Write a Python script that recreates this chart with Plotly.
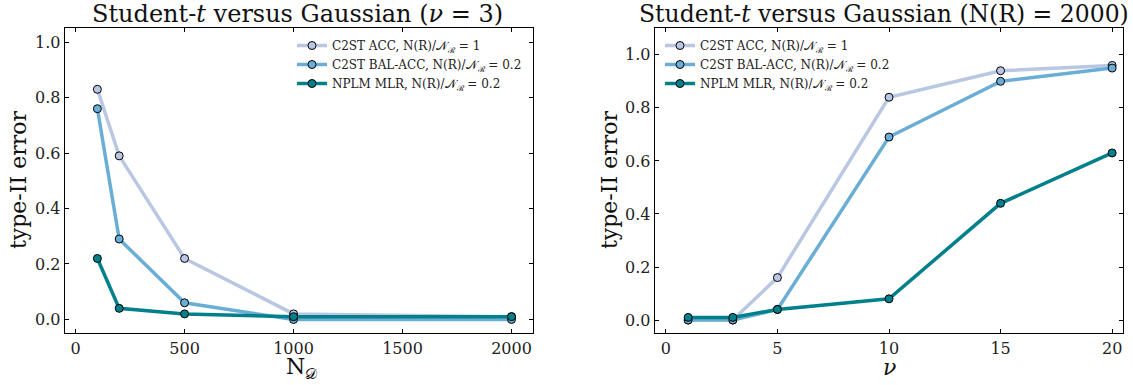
import plotly.graph_objects as go

# ---- data ----
n_data = [100, 200, 500, 1000, 2000]
acc_left = [0.83, 0.59, 0.22, 0.02, 0.01]
balacc_left = [0.76, 0.29, 0.06, 0.00, 0.00]
nplm_left = [0.22, 0.04, 0.02, 0.01, 0.01]

nu_vals = [1, 3, 5, 10, 15, 20]
acc_right = [0.00, 0.00, 0.16, 0.84, 0.94, 0.96]
balacc_right = [0.00, 0.00, 0.04, 0.69, 0.90, 0.95]
nplm_right = [0.01, 0.01, 0.04, 0.08, 0.44, 0.63]

names = ["C2ST ACC, N(R)/𝒩<sub>ℛ</sub> = 1",
         "C2ST BAL-ACC, N(R)/𝒩<sub>ℛ</sub> = 0.2",
         "NPLM MLR, N(R)/𝒩<sub>ℛ</sub> = 0.2"]
colors = ["#b9c7e2", "#6aaed6", "#00808a"]

W, H = 1133, 385
FONT = "DejaVu Serif"

fig = go.Figure()

def add_series(xs, ys, name, color, xa, ya, legend):
    fig.add_trace(go.Scatter(
        x=xs, y=ys, name=name, mode="lines+markers",
        line=dict(color=color, width=3.5),
        marker=dict(size=8, color=color, line=dict(color="black", width=1)),
        xaxis=xa, yaxis=ya, legend=legend, showlegend=True))

for ys, nm, c in zip([acc_left, balacc_left, nplm_left], names, colors):
    add_series(n_data, ys, nm, c, "x", "y", "legend")
for ys, nm, c in zip([acc_right, balacc_right, nplm_right], names, colors):
    add_series(nu_vals, ys, nm, c, "x2", "y2", "legend2")

ydom = [1 - 333.3 / H, 1 - 28.3 / H]
axis_common = dict(
    showline=True, linecolor="black", linewidth=1, mirror="allticks",
    ticks="inside", ticklen=4, tickwidth=1, tickcolor="black",
    showgrid=False, zeroline=False,
    tickfont=dict(family=FONT, size=16, color="#222"),
)

fig.update_layout(
    width=W, height=H,
    margin=dict(l=0, r=0, t=0, b=0),
    paper_bgcolor="white", plot_bgcolor="white",
    font=dict(family=FONT, color="#222"),
    xaxis=dict(domain=[64.7 / W, 533.3 / W], range=[-50, 2100],
               tickvals=[0, 500, 1000, 1500, 2000], anchor="y", **axis_common),
    yaxis=dict(domain=ydom, range=[-0.05, 1.05],
               tickvals=[0, 0.2, 0.4, 0.6, 0.8, 1.0], tickformat=".1f",
               anchor="x", **axis_common),
    xaxis2=dict(domain=[654.7 / W, 1123.3 / W], range=[-0.5, 20.5],
                tickvals=[0, 5, 10, 15, 20], anchor="y2", **axis_common),
    yaxis2=dict(domain=ydom, range=[-0.05, 1.1],
                tickvals=[0, 0.2, 0.4, 0.6, 0.8, 1.0], tickformat=".1f",
                anchor="x2", **axis_common),
    legend=dict(x=527 / W, xanchor="right", y=1 - 31 / H, yanchor="top",
                bgcolor="rgba(0,0,0,0)", font=dict(family=FONT, size=12, color="#222"),
                itemwidth=30),
    legend2=dict(x=660 / W, xanchor="left", y=1 - 31 / H, yanchor="top",
                 bgcolor="rgba(0,0,0,0)", font=dict(family=FONT, size=12, color="#222"),
                 itemwidth=30),
)

def ann(text, x, y, size, angle=0, yanchor="middle"):
    fig.add_annotation(text=text, x=x / W, y=1 - y / H, xref="paper", yref="paper",
                       showarrow=False, textangle=angle,
                       font=dict(family=FONT, size=size, color="#111"),
                       xanchor="center", yanchor=yanchor)

ann("Student-<i>t</i> versus Gaussian (<i>ν</i> = 3)", 297, 14, 24)
ann("Student-<i>t</i> versus Gaussian (N(R) = 2000)", 884, 14, 23.5)
ann("N<sub>𝒟</sub>", 301, 352, 22, yanchor="top")
ann("<i>ν</i>", 889, 353, 22, yanchor="top")
ann("type-II error", 19, 180, 22, -90)
ann("type-II error", 610, 180, 22, -90)

fig.write_html("out.html", config={"displayModeBar": False},
               post_script="document.body.style.margin='0';document.body.style.overflow='hidden';")
